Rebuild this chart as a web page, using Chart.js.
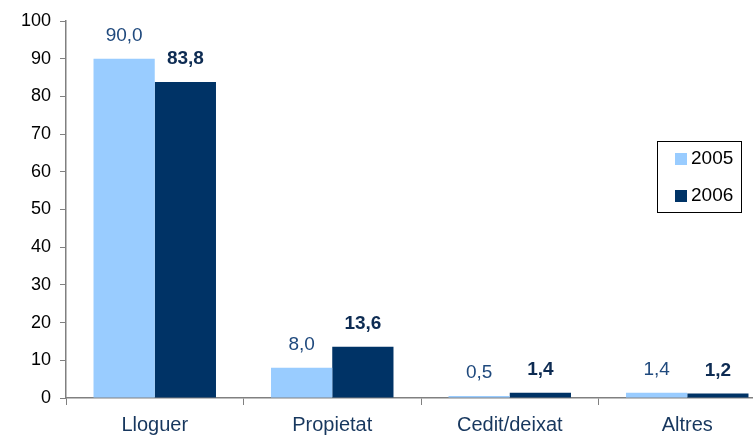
<!DOCTYPE html>
<html>
<head>
<meta charset="utf-8">
<script src="https://cdn.jsdelivr.net/npm/chart.js@4"></script>
<style>
  html, body { margin: 0; padding: 0; background: #fff; overflow: hidden; width: 753px; height: 436px; }
  #chartArea { position: absolute; left: 0; top: 0; }
</style>
</head>
<body>
<canvas id="chartArea" width="790" height="436"></canvas>
<script>
// dades
const categories = ['Lloguer', 'Propietat', 'Cedit/deixat', 'Altres'];
const years = ['2005', '2006'];
const values2005 = [90.0, 8.0, 0.5, 1.4];
const values2006 = [83.8, 13.6, 1.4, 1.2];
const yTicks = [0, 10, 20, 30, 40, 50, 60, 70, 80, 90, 100];

const colors = ['#99ccff', '#003366'];
const fontFam = '"Liberation Sans", Arial, sans-serif';
const fmt = v => v.toFixed(1).replace('.', ',');

// etiquetes de valor sobre les barres
const valueLabels = {
  id: 'valueLabels',
  afterDatasetsDraw(chart) {
    const ctx = chart.ctx;
    ctx.save();
    ctx.textAlign = 'center';
    ctx.textBaseline = 'middle';
    chart.data.datasets.forEach((ds, i) => {
      const meta = chart.getDatasetMeta(i);
      ctx.font = (i === 1 ? 'bold ' : '') + '19px ' + fontFam;
      ctx.fillStyle = i === 1 ? '#0d2b52' : '#1f497d';
      meta.data.forEach((bar, j) => {
        ctx.fillText(fmt(ds.data[j]), bar.x, bar.y - 23);
      });
    });
    ctx.restore();
  }
};

// llegenda amb marc
const boxLegend = {
  id: 'boxLegend',
  afterDraw(chart) {
    const ctx = chart.ctx;
    ctx.save();
    ctx.strokeStyle = '#000';
    ctx.lineWidth = 1;
    ctx.strokeRect(657.5, 141.5, 84, 71);
    ctx.font = '19px ' + fontFam;
    ctx.textBaseline = 'middle';
    ctx.textAlign = 'left';
    chart.data.datasets.forEach((ds, i) => {
      const y = 159 + i * 37;
      ctx.fillStyle = ds.backgroundColor;
      ctx.fillRect(675, y - 6, 12, 12);
      ctx.fillStyle = '#000';
      ctx.fillText(ds.label, 691, y);
    });
    ctx.restore();
  }
};

new Chart(document.getElementById('chartArea'), {
  type: 'bar',
  data: {
    labels: categories,
    datasets: [
      { label: years[0], data: values2005, backgroundColor: colors[0] },
      { label: years[1], data: values2006, backgroundColor: colors[1] }
    ]
  },
  options: {
    responsive: false,
    animation: false,
    categoryPercentage: 0.69,
    barPercentage: 1,
    layout: { padding: { top: 21, right: 14, left: 0, bottom: 0 } },
    plugins: { legend: { display: false }, tooltip: { enabled: false } },
    scales: {
      x: {
        offset: true,
        grid: { offset: true, drawOnChartArea: false, drawTicks: true, tickLength: 7, tickColor: '#808080' },
        border: { color: '#808080', width: 1.5 },
        ticks: { color: '#17375e', font: { family: fontFam, size: 20 }, padding: 8 },
        afterFit(scale) { scale.height = 38; }
      },
      y: {
        min: 0, max: 100,
        afterBuildTicks(scale) { scale.ticks = yTicks.map(v => ({ value: v })); },
        grid: { drawOnChartArea: false, drawTicks: true, tickLength: 6, tickColor: '#808080' },
        border: { color: '#808080', width: 1.5 },
        ticks: { color: '#000', font: { family: fontFam, size: 18 }, padding: 9 },
        afterFit(scale) { scale.width = 66; }
      }
    }
  },
  plugins: [valueLabels, boxLegend]
});
</script>
</body>
</html>
